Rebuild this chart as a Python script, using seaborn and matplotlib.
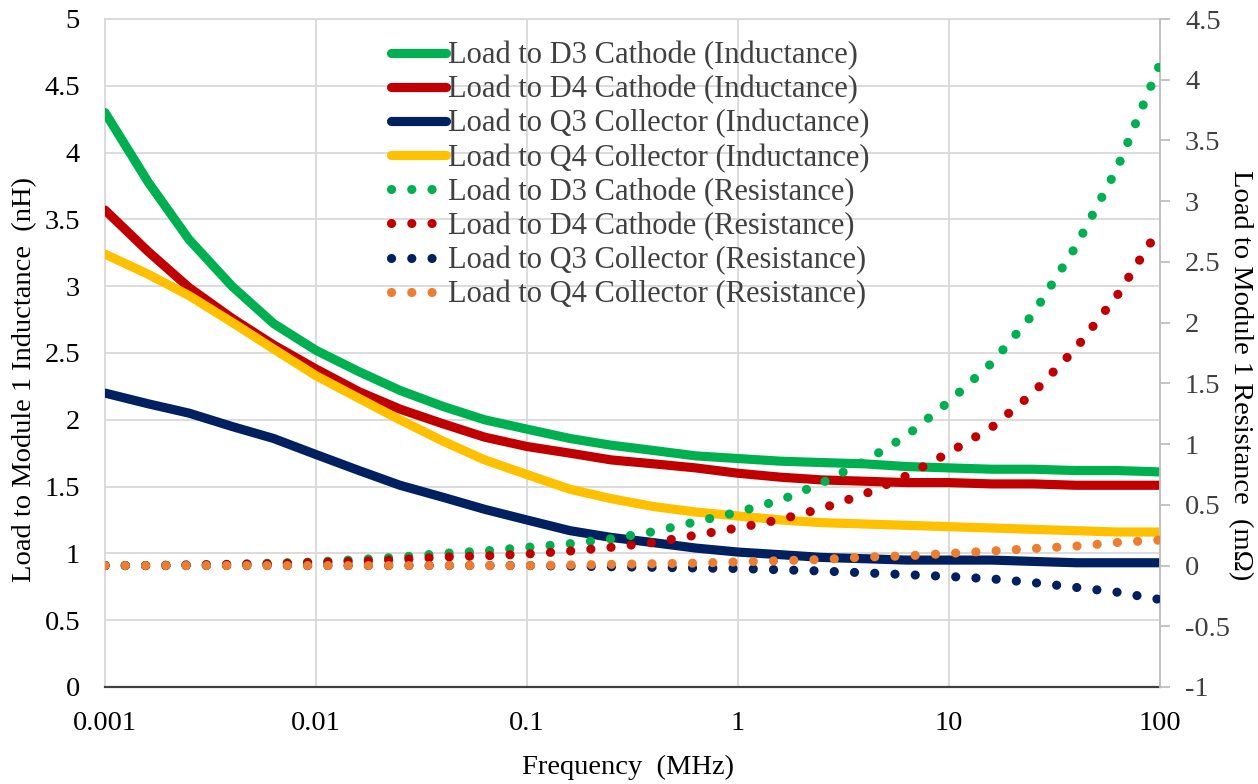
import numpy as np
import pandas as pd
import matplotlib
matplotlib.use("Agg")
import matplotlib.pyplot as plt
import seaborn as sns

# ---- data ----
freq_mhz = [0.001, 0.0016, 0.0025, 0.004, 0.0063, 0.01, 0.016, 0.025, 0.04, 0.063,
            0.1, 0.16, 0.25, 0.4, 0.63, 1, 1.6, 2.5, 4, 6.3,
            10, 16, 25, 40, 63, 100]

ind_d3 = [4.30, 3.78, 3.35, 3.00, 2.72, 2.52, 2.36, 2.22, 2.10, 2.00,
          1.93, 1.86, 1.81, 1.77, 1.73, 1.71, 1.69, 1.68, 1.67, 1.65,
          1.64, 1.63, 1.63, 1.62, 1.62, 1.61]
ind_d4 = [3.57, 3.26, 2.99, 2.76, 2.56, 2.38, 2.21, 2.08, 1.97, 1.87,
          1.80, 1.75, 1.70, 1.67, 1.64, 1.60, 1.57, 1.55, 1.54, 1.53,
          1.53, 1.52, 1.52, 1.51, 1.51, 1.51]
ind_q3 = [2.20, 2.12, 2.05, 1.95, 1.86, 1.74, 1.62, 1.51, 1.42, 1.33,
          1.25, 1.17, 1.12, 1.08, 1.04, 1.01, 0.99, 0.97, 0.96, 0.95,
          0.95, 0.95, 0.94, 0.93, 0.93, 0.93]
ind_q4 = [3.24, 3.09, 2.93, 2.73, 2.53, 2.33, 2.16, 2.00, 1.84, 1.70,
          1.59, 1.48, 1.41, 1.35, 1.31, 1.28, 1.25, 1.23, 1.22, 1.21,
          1.20, 1.19, 1.18, 1.17, 1.16, 1.16]

res_d3 = [0.00, 0.00, 0.005, 0.01, 0.02, 0.03, 0.05, 0.07, 0.10, 0.12,
          0.15, 0.18, 0.22, 0.28, 0.36, 0.44, 0.54, 0.68, 0.86, 1.07,
          1.35, 1.67, 2.07, 2.63, 3.28, 4.13]
res_d4 = [0.00, 0.00, 0.005, 0.01, 0.015, 0.025, 0.035, 0.05, 0.07, 0.08,
          0.095, 0.12, 0.15, 0.19, 0.25, 0.31, 0.38, 0.47, 0.59, 0.74,
          0.93, 1.14, 1.42, 1.79, 2.23, 2.78]
res_q3 = [0.00, 0.00, 0.00, 0.00, 0.00, 0.00, 0.00, 0.00, 0.00, 0.00,
          0.00, -0.005, -0.01, -0.015, -0.02, -0.025, -0.035, -0.045, -0.06, -0.075,
          -0.09, -0.11, -0.14, -0.18, -0.22, -0.28]
res_q4 = [0.00, 0.00, 0.00, 0.00, 0.00, 0.00, 0.00, 0.00, 0.00, 0.00,
          0.00, 0.005, 0.01, 0.015, 0.02, 0.03, 0.04, 0.05, 0.07, 0.08,
          0.10, 0.12, 0.14, 0.16, 0.19, 0.21]

labels_ind = ["Load to D3 Cathode (Inductance)", "Load to D4 Cathode (Inductance)",
              "Load to Q3 Collector (Inductance)", "Load to Q4 Collector (Inductance)"]
labels_res = ["Load to D3 Cathode (Resistance)", "Load to D4 Cathode (Resistance)",
              "Load to Q3 Collector (Resistance)", "Load to Q4 Collector (Resistance)"]
colors = ["#00b050", "#c00000", "#002060", "#ffc000"]
colors_res = ["#00b050", "#c00000", "#002060", "#ed7d31"]

x_ticks = [0.001, 0.01, 0.1, 1, 10, 100]
x_tick_labels = ["0.001", "0.01", "0.1", "1", "10", "100"]
yl_ticks = [0, 0.5, 1, 1.5, 2, 2.5, 3, 3.5, 4, 4.5, 5]
yr_ticks = [-1, -0.5, 0, 0.5, 1, 1.5, 2, 2.5, 3, 3.5, 4, 4.5]

# ---- style ----
sns.set_style("white")
plt.rcParams["font.family"] = ["Liberation Serif", "DejaVu Serif"]

fig = plt.figure(figsize=(12.58, 7.84), dpi=100)
ax = fig.add_axes([105 / 1258, 1 - 687 / 784, 1055 / 1258, 668 / 784])
ax2 = ax.twinx()

LW = 6.6
dot_style = (0, (0.01, 2.2))

handles = []
for vals, lab, col in zip([ind_d3, ind_d4, ind_q3, ind_q4], labels_ind, colors):
    df = pd.DataFrame({"f": freq_mhz, "v": vals})
    sns.lineplot(data=df, x="f", y="v", ax=ax, color=col, linewidth=LW,
                 solid_capstyle="round", label=lab, legend=False, zorder=3)
    handles.append(ax.get_lines()[-1])

for vals, lab, col in zip([res_d3, res_d4, res_q3, res_q4], labels_res, colors_res):
    df = pd.DataFrame({"f": freq_mhz, "v": vals})
    sns.lineplot(data=df, x="f", y="v", ax=ax2, color=col, linewidth=LW,
                 linestyle=dot_style, dash_capstyle="round", label=lab,
                 legend=False, zorder=3)
    handles.append(ax2.get_lines()[-1])

ax.set_xscale("log")
ax.set_xlim(0.001, 100)
ax.set_ylim(0, 5)
ax2.set_ylim(-1, 4.5)

ax.set_xticks(x_ticks)
ax.set_xticklabels(x_tick_labels)
ax.xaxis.set_minor_locator(matplotlib.ticker.NullLocator())
ax.set_yticks(yl_ticks)
ax.set_yticklabels([f"{v:g}" for v in yl_ticks])
ax2.set_yticks(yr_ticks)
ax2.set_yticklabels([f"{v:g}" for v in yr_ticks])

grid_col = "#d9d9d9"
ax.grid(True, which="major", axis="both", color=grid_col, linewidth=1.3, zorder=0)
ax.set_axisbelow(True)
ax2.grid(False)

for sp in ["left", "top", "right"]:
    ax.spines[sp].set_color(grid_col)
    ax.spines[sp].set_linewidth(1.3)
ax.spines["bottom"].set_color("#404040")
ax.spines["bottom"].set_linewidth(1.6)
for sp in ["left", "top", "bottom"]:
    ax2.spines[sp].set_visible(False)
ax2.spines["right"].set_color("#bfbfbf")
ax2.spines["right"].set_linewidth(1.3)

FS = 20.5
ax.tick_params(axis="x", length=0, pad=17, labelsize=FS, labelcolor="#000000")
ax.tick_params(axis="y", length=0, pad=18, labelsize=FS, labelcolor="#000000")
ax2.tick_params(axis="y", length=7, width=1.3, color="#bfbfbf", pad=11,
                labelsize=FS, labelcolor="#404040")

ax.set_xlabel("Frequency  (MHz)", fontsize=FS, color="#000000")
ax.set_ylabel("Load to Module 1 Inductance  (nH)", fontsize=FS, color="#000000",
              rotation=90, ha="center", va="center", rotation_mode="anchor")
ax2.set_ylabel("Load to Module 1 Resistance  (mΩ)", fontsize=FS, color="#000000",
               rotation=270, ha="center", va="center", rotation_mode="anchor")
ax.xaxis.label.set_va("center")
ax.xaxis.set_label_coords(0.496, -0.12)
ax.yaxis.set_label_coords(-0.0758, 0.46)
ax2.yaxis.set_label_coords(1.0758, 0.467)

leg = ax2.legend(handles=handles, labels=labels_ind + labels_res,
                 loc="upper left", bbox_to_anchor=(286 / 1055, 1 - 22 / 668),
                 frameon=False, fontsize=22, handlelength=1.8, handletextpad=0.05,
                 labelspacing=0.16, borderaxespad=0, borderpad=0)
for t in leg.get_texts():
    t.set_color("#404040")

fig.savefig("out.png", dpi=100)
